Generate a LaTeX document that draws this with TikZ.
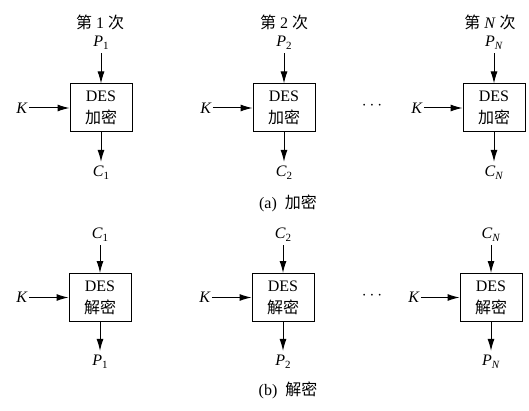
\documentclass[tikz,border=0pt]{standalone}
\usepackage{fontspec}
\setmainfont{Liberation Serif}
\newfontfamily\cjk{Noto Sans CJK SC}
\usetikzlibrary{arrows.meta}
\newcommand{\vsub}[2]{\textit{#1}\raisebox{-0.45ex}{\fontsize{11}{11}\selectfont #2}}
\tikzset{
  box/.style={draw, line width=1pt, minimum width=62pt, minimum height=48pt, align=center, inner sep=0pt, font=\fontsize{16}{22}\selectfont},
  lab/.style={inner sep=1pt, font=\fontsize{16}{18}\selectfont},
  arr/.style={-{Latex[length=12pt,width=7pt]}, line width=1pt},
}
\begin{document}
\begin{tikzpicture}[x=1pt,y=-1pt]
\useasboundingbox (0,0) rectangle (529,411);
% ---------- encryption row
\node[box] (e1) at (101,108) {DES\\{\cjk 加密}};
\node[box] (e2) at (284,108) {DES\\{\cjk 加密}};
\node[box] (e3) at (494,108) {DES\\{\cjk 加密}};
\node[lab] (t1) at (100,22) {{\cjk 第} 1 {\cjk 次}};
\node[lab] (t2) at (284,22) {{\cjk 第} 2 {\cjk 次}};
\node[lab] (t3) at (490,22) {{\cjk 第} \textit{N} {\cjk 次}};
\node[lab] (p1) at (101,43) {\vsub{P}{1}};
\node[lab] (p2) at (284,43) {\vsub{P}{2}};
\node[lab] (p3) at (494,43) {\vsub{P}{\textit{N}}};
\node[lab] (c1) at (101,173) {\vsub{C}{1}};
\node[lab] (c2) at (284,173) {\vsub{C}{2}};
\node[lab] (c3) at (494,173) {\vsub{C}{\textit{N}}};
\node[lab] (k1) at (22,108) {\textit{K}};
\node[lab] (k2) at (206,108) {\textit{K}};
\node[lab] (k3) at (417,108) {\textit{K}};
\node[lab] (dots1) at (372,106) {$\cdots$};
\foreach \i in {1,2,3}{
  \draw[arr, shorten <=2pt] (p\i.south) -- (e\i.north);
  \draw[arr, shorten >=3pt] (e\i.south) -- (c\i.north);
  \draw[arr] (k\i.east) -- (e\i.west);
}
\node[lab] (capa) at (288,203) {(a)\ \ {\cjk 加密}};
% ---------- decryption row
\node[box] (d1) at (100,297.5) {DES\\{\cjk 解密}};
\node[box] (d2) at (283,297.5) {DES\\{\cjk 解密}};
\node[box] (d3) at (491,297.5) {DES\\{\cjk 解密}};
\node[lab] (cc1) at (100,235) {\vsub{C}{1}};
\node[lab] (cc2) at (283,235) {\vsub{C}{2}};
\node[lab] (cc3) at (491,235) {\vsub{C}{\textit{N}}};
\node[lab] (pp1) at (100,362) {\vsub{P}{1}};
\node[lab] (pp2) at (283,362) {\vsub{P}{2}};
\node[lab] (pp3) at (491,362) {\vsub{P}{\textit{N}}};
\node[lab] (kk1) at (22,297.5) {\textit{K}};
\node[lab] (kk2) at (205,297.5) {\textit{K}};
\node[lab] (kk3) at (414,297.5) {\textit{K}};
\node[lab] (dots2) at (372,295.5) {$\cdots$};
\foreach \i in {1,2,3}{
  \draw[arr, shorten <=2pt] (cc\i.south) -- (d\i.north);
  \draw[arr, shorten >=3pt] (d\i.south) -- (pp\i.north);
  \draw[arr] (kk\i.east) -- (d\i.west);
}
\node[lab] (capb) at (288,390) {(b)\ \ {\cjk 解密}};
\end{tikzpicture}
\end{document}
